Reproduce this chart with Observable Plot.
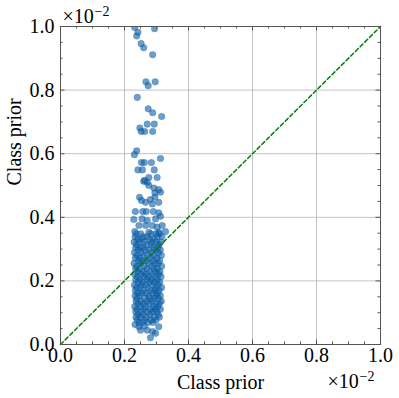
<!DOCTYPE html>
<html>
<head>
<meta charset="utf-8">
<script src="https://cdn.jsdelivr.net/npm/d3@7"></script>
<script src="https://cdn.jsdelivr.net/npm/@observablehq/plot@0.6"></script>
<style>
  html, body { margin: 0; padding: 0; background: white; }
</style>
</head>
<body>
<div id="chart"></div>
<script>
// Values are in units of 10^-2 (axis offset "×10⁻²")
const axisLabel = "Class prior";
const majorTicks = [0.0, 0.2, 0.4, 0.6, 0.8, 1.0];
const minorTicks = [0.05, 0.1, 0.15, 0.25, 0.3, 0.35, 0.45, 0.5, 0.55, 0.65, 0.7, 0.75, 0.85, 0.9, 0.95];

// sparse upper points
const upperX = [0.232, 0.294, 0.242, 0.238, 0.252, 0.260, 0.288, 0.267, 0.296, 0.274, 0.240, 0.274, 0.288, 0.316, 0.271, 0.293, 0.248, 0.252, 0.263, 0.288, 0.238, 0.231, 0.3125, 0.253, 0.262, 0.284, 0.242, 0.256, 0.293, 0.276, 0.302, 0.263,
  0.260, 0.271, 0.276, 0.292, 0.307, 0.3125, 0.295, 0.247, 0.253, 0.281, 0.295, 0.307, 0.266, 0.287, 0.234, 0.257, 0.268, 0.290, 0.307, 0.229, 0.255, 0.271, 0.297, 0.3125, 0.245, 0.266, 0.287, 0.302, 0.318, 0.232, 0.276, 0.307, 0.328];
const upperY = [0.997, 0.993, 0.982, 0.970, 0.946, 0.933, 0.911, 0.826, 0.826, 0.814, 0.777, 0.741, 0.729, 0.717, 0.693, 0.693, 0.681, 0.670, 0.670, 0.670, 0.609, 0.597, 0.585, 0.572, 0.572, 0.572, 0.549, 0.549, 0.549, 0.525, 0.525, 0.516,
  0.513, 0.510, 0.500, 0.492, 0.487, 0.479, 0.477, 0.463, 0.453, 0.456, 0.463, 0.447, 0.447, 0.442, 0.418, 0.418, 0.418, 0.418, 0.414, 0.393, 0.395, 0.390, 0.395, 0.403, 0.374, 0.374, 0.374, 0.369, 0.374, 0.355, 0.353, 0.353, 0.355];

// dense block, row by row
const denseY = [0.348, 0.339, 0.331, 0.322, 0.314, 0.305, 0.297, 0.289, 0.280, 0.272, 0.263, 0.255, 0.246, 0.238, 0.229, 0.221, 0.213, 0.204, 0.196, 0.187, 0.179, 0.170, 0.162, 0.153, 0.145, 0.136, 0.128, 0.119, 0.111, 0.103, 0.094, 0.086, 0.077, 0.069];
const denseX = [
  [0.237, 0.251, 0.283, 0.298, 0.309],
  [0.233, 0.259, 0.271, 0.302, 0.317],
  [0.241, 0.253, 0.279, 0.292],
  [0.230, 0.247, 0.262, 0.286, 0.300, 0.313],
  [0.238, 0.269, 0.283, 0.308],
  [0.235, 0.249, 0.258, 0.291, 0.304],
  [0.243, 0.265, 0.276, 0.297, 0.312],
  [0.231, 0.252, 0.284, 0.306],
  [0.239, 0.260, 0.272, 0.293, 0.315],
  [0.234, 0.248, 0.281, 0.301],
  [0.244, 0.256, 0.268, 0.289, 0.310],
  [0.230, 0.251, 0.276, 0.296, 0.305],
  [0.238, 0.262, 0.285, 0.316],
  [0.235, 0.247, 0.270, 0.292, 0.303],
  [0.242, 0.258, 0.279, 0.299, 0.311],
  [0.232, 0.252, 0.266, 0.287, 0.307],
  [0.240, 0.261, 0.275, 0.296, 0.314],
  [0.235, 0.248, 0.270, 0.284, 0.302],
  [0.243, 0.257, 0.279, 0.293, 0.310],
  [0.231, 0.253, 0.267, 0.288, 0.305],
  [0.238, 0.249, 0.273, 0.298, 0.316],
  [0.234, 0.259, 0.282, 0.294, 0.308],
  [0.241, 0.254, 0.268, 0.289, 0.303],
  [0.233, 0.247, 0.275, 0.299, 0.312],
  [0.239, 0.262, 0.280, 0.293, 0.306],
  [0.236, 0.251, 0.270, 0.286, 0.315],
  [0.242, 0.258, 0.277, 0.298, 0.309],
  [0.232, 0.249, 0.266, 0.290, 0.304],
  [0.239, 0.261, 0.281, 0.296, 0.312],
  [0.235, 0.253, 0.272, 0.288, 0.301],
  [0.243, 0.257, 0.279, 0.305],
  [0.236, 0.249, 0.268, 0.292, 0.309],
  [0.240, 0.263, 0.283, 0.298],
  [0.246, 0.256, 0.274, 0.289]
];

// lower tail
const tailX = [0.233, 0.245, 0.250, 0.271, 0.307, 0.297, 0.281, 0.288, 0.262];
const tailY = [0.063, 0.056, 0.045, 0.045, 0.056, 0.035, 0.021, 0.041, 0.058];

const points = [];
upperX.forEach((x, i) => points.push({x, y: upperY[i]}));
denseY.forEach((y, i) => denseX[i].forEach(x => points.push({x, y})));
tailX.forEach((x, i) => points.push({x, y: tailY[i]}));

const W = 399, H = 398;
const mL = 60, mR = 19, mT = 26, mB = 54;
const pw = W - mL - mR, ph = H - mT - mB;
const tickColor = "#555";
const majorLen = 4.5, minorLen = 2.5;
const fmt = d3.format(".1f");

const chart = Plot.plot({
  width: W, height: H,
  marginLeft: mL, marginRight: mR, marginTop: mT, marginBottom: mB,
  style: {fontFamily: "'Liberation Serif', serif", fontSize: "20px", background: "white", color: "black"},
  x: {domain: [0, 1], label: null},
  y: {domain: [0, 1], label: null},
  marks: [
    Plot.gridX(majorTicks, {stroke: "#bbb", strokeOpacity: 1, strokeWidth: 0.9}),
    Plot.gridY(majorTicks, {stroke: "#bbb", strokeOpacity: 1, strokeWidth: 0.9}),
    Plot.dot(points, {x: "x", y: "y", r: 3.3, fill: "#0C5DA5", fillOpacity: 0.6, stroke: "#0C5DA5", strokeOpacity: 0.4, strokeWidth: 0.6, clip: true}),
    Plot.line([[0, 0], [1, 1]], {x: d => d[0], y: d => d[1], stroke: "#008000", strokeWidth: 1.5, strokeDasharray: "4,2.6"}),
    // inward ticks on all sides
    Plot.tickX(majorTicks, {x: d => d, insetTop: ph - majorLen, stroke: tickColor}),
    Plot.tickX(minorTicks, {x: d => d, insetTop: ph - minorLen, stroke: tickColor}),
    Plot.tickX(majorTicks, {x: d => d, insetBottom: ph - majorLen, stroke: tickColor}),
    Plot.tickX(minorTicks, {x: d => d, insetBottom: ph - minorLen, stroke: tickColor}),
    Plot.tickY(majorTicks, {y: d => d, insetRight: pw - majorLen, stroke: tickColor}),
    Plot.tickY(minorTicks, {y: d => d, insetRight: pw - minorLen, stroke: tickColor}),
    Plot.tickY(majorTicks, {y: d => d, insetLeft: pw - majorLen, stroke: tickColor}),
    Plot.tickY(minorTicks, {y: d => d, insetLeft: pw - minorLen, stroke: tickColor}),
    Plot.frame({stroke: tickColor, strokeWidth: 1}),
    Plot.axisX(majorTicks, {tickSize: 0, tickPadding: 3, tickFormat: fmt, label: null}),
    Plot.axisY(majorTicks, {tickSize: 0, tickPadding: 6, tickFormat: fmt, label: null}),
    Plot.text([axisLabel], {frameAnchor: "bottom", lineAnchor: "bottom", dy: 44}),
    Plot.text([axisLabel], {frameAnchor: "left", lineAnchor: "bottom", rotate: -90, dx: -40}),
    // offset text ×10^-2 (top-left and bottom-right)
    Plot.text(["×10"], {frameAnchor: "top-left", textAnchor: "start", lineAnchor: "bottom", dx: 2, dy: -4}),
    Plot.text(["−2"], {frameAnchor: "top-left", textAnchor: "start", lineAnchor: "bottom", dx: 34, dy: -11, fontSize: 14}),
    Plot.text(["×10"], {frameAnchor: "bottom-right", textAnchor: "start", lineAnchor: "bottom", dx: -53, dy: 43}),
    Plot.text(["−2"], {frameAnchor: "bottom-right", textAnchor: "start", lineAnchor: "bottom", dx: -21, dy: 36, fontSize: 14})
  ]
});
document.getElementById("chart").appendChild(chart);
</script>
</body>
</html>
